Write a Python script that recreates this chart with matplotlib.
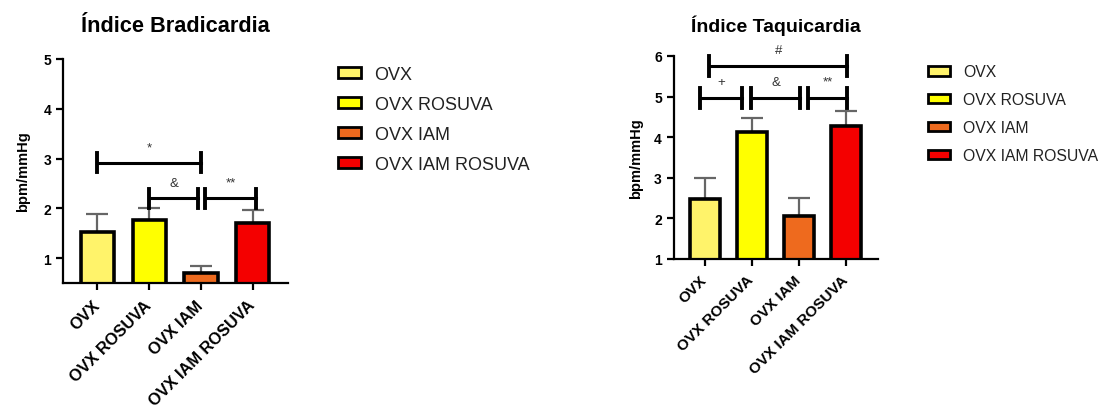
import matplotlib.pyplot as plt
from matplotlib.patches import Patch

plt.rcParams['font.family'] = ['Liberation Sans', 'DejaVu Sans']

groups = ['OVX', 'OVX ROSUVA', 'OVX IAM', 'OVX IAM ROSUVA']
colors = ['#FFF36A', '#FFFF00', '#EE6A1E', '#F40000']

brad_mean = [1.53, 1.77, 0.71, 1.70]
brad_err = [0.35, 0.23, 0.14, 0.27]
taqui_mean = [2.47, 4.13, 2.07, 4.27]
taqui_err = [0.53, 0.34, 0.44, 0.38]

# (x start, x end, height, label)
brad_sig = [(0, 2, 2.92, '*'), (1, 1.94, 2.2, '&'), (2.08, 3.06, 2.2, '**')]
taqui_sig = [(0.1, 3.04, 5.76, '#'), (-0.1, 0.8, 4.97, '+'),
             (0.98, 2.04, 4.97, '&'), (2.2, 3.04, 4.97, '**')]


def draw(ax, means, errs, sig, title, ylim, yticks, cap_h, tfs, xfs,
         tpad, ylpad, xpad):
    x = range(len(groups))
    ax.bar(x, means, width=0.64, color=colors, edgecolor='black',
           linewidth=2.6, zorder=2)
    ax.errorbar(x, means, yerr=[[0] * len(errs), errs], fmt='none',
                ecolor='#666666', elinewidth=1.6, capsize=8, capthick=1.6,
                zorder=1)
    for x0, x1, y, lab in sig:
        ax.plot([x0, x1], [y, y], color='black', lw=2.2, clip_on=False)
        ax.plot([x0, x0], [y - cap_h, y + cap_h], color='black', lw=2.8,
                clip_on=False)
        ax.plot([x1, x1], [y - cap_h, y + cap_h], color='black', lw=2.8,
                clip_on=False)
        ax.text((x0 + x1) / 2, y + cap_h * 1.0, lab, ha='center',
                va='bottom', fontsize=9.5, color='#333333')
    ax.set_xlim(-0.66, 3.68)
    ax.set_ylim(*ylim)
    ax.set_yticks(yticks)
    ax.set_xticks(list(x))
    ax.set_xticklabels(groups, rotation=45, ha='right', va='center',
                       rotation_mode='anchor', fontsize=xfs,
                       fontweight='bold')
    for t in ax.get_yticklabels():
        t.set_fontweight('bold')
        t.set_fontsize(10)
    ax.set_ylabel('bpm/mmHg', fontsize=10.5, fontweight='bold',
                  labelpad=ylpad)
    ax.set_title(title, fontsize=tfs, fontweight='bold', pad=tpad)
    ax.spines['top'].set_visible(False)
    ax.spines['right'].set_visible(False)
    ax.spines['left'].set_linewidth(1.6)
    ax.spines['bottom'].set_linewidth(1.6)
    ax.tick_params(width=1.6, length=5)
    ax.tick_params(axis='x', pad=xpad)


fig = plt.figure(figsize=(11.08, 4.10), dpi=100)
ax1 = fig.add_axes([0.057, 0.307, 0.203, 0.547])
ax2 = fig.add_axes([0.608, 0.366, 0.184, 0.495])

draw(ax1, brad_mean, brad_err, brad_sig, 'Índice Bradicardia',
     (0.5, 5), [1, 2, 3, 4, 5], 0.19, 15.7, 11.8, 20, 10, 9)
draw(ax2, taqui_mean, taqui_err, taqui_sig, 'Índice Taquicardia',
     (1, 6), [1, 2, 3, 4, 5, 6], 0.25, 14, 11, 18, 8, 8.5)

handles = [Patch(facecolor=c, edgecolor='black', linewidth=2) for c in colors]
fig.legend(handles, groups, loc='upper left', bbox_to_anchor=(0.29, 0.877),
           frameon=False, fontsize=13, handlelength=1.3, handleheight=0.55,
           handletextpad=0.75, labelspacing=0.72, labelcolor='#222222')
fig.legend(handles, groups, loc='upper left', bbox_to_anchor=(0.825, 0.875),
           frameon=False, fontsize=11.3, handlelength=1.4, handleheight=0.55,
           handletextpad=0.8, labelspacing=0.82, labelcolor='#222222')

fig.savefig('out.png', dpi=100)
